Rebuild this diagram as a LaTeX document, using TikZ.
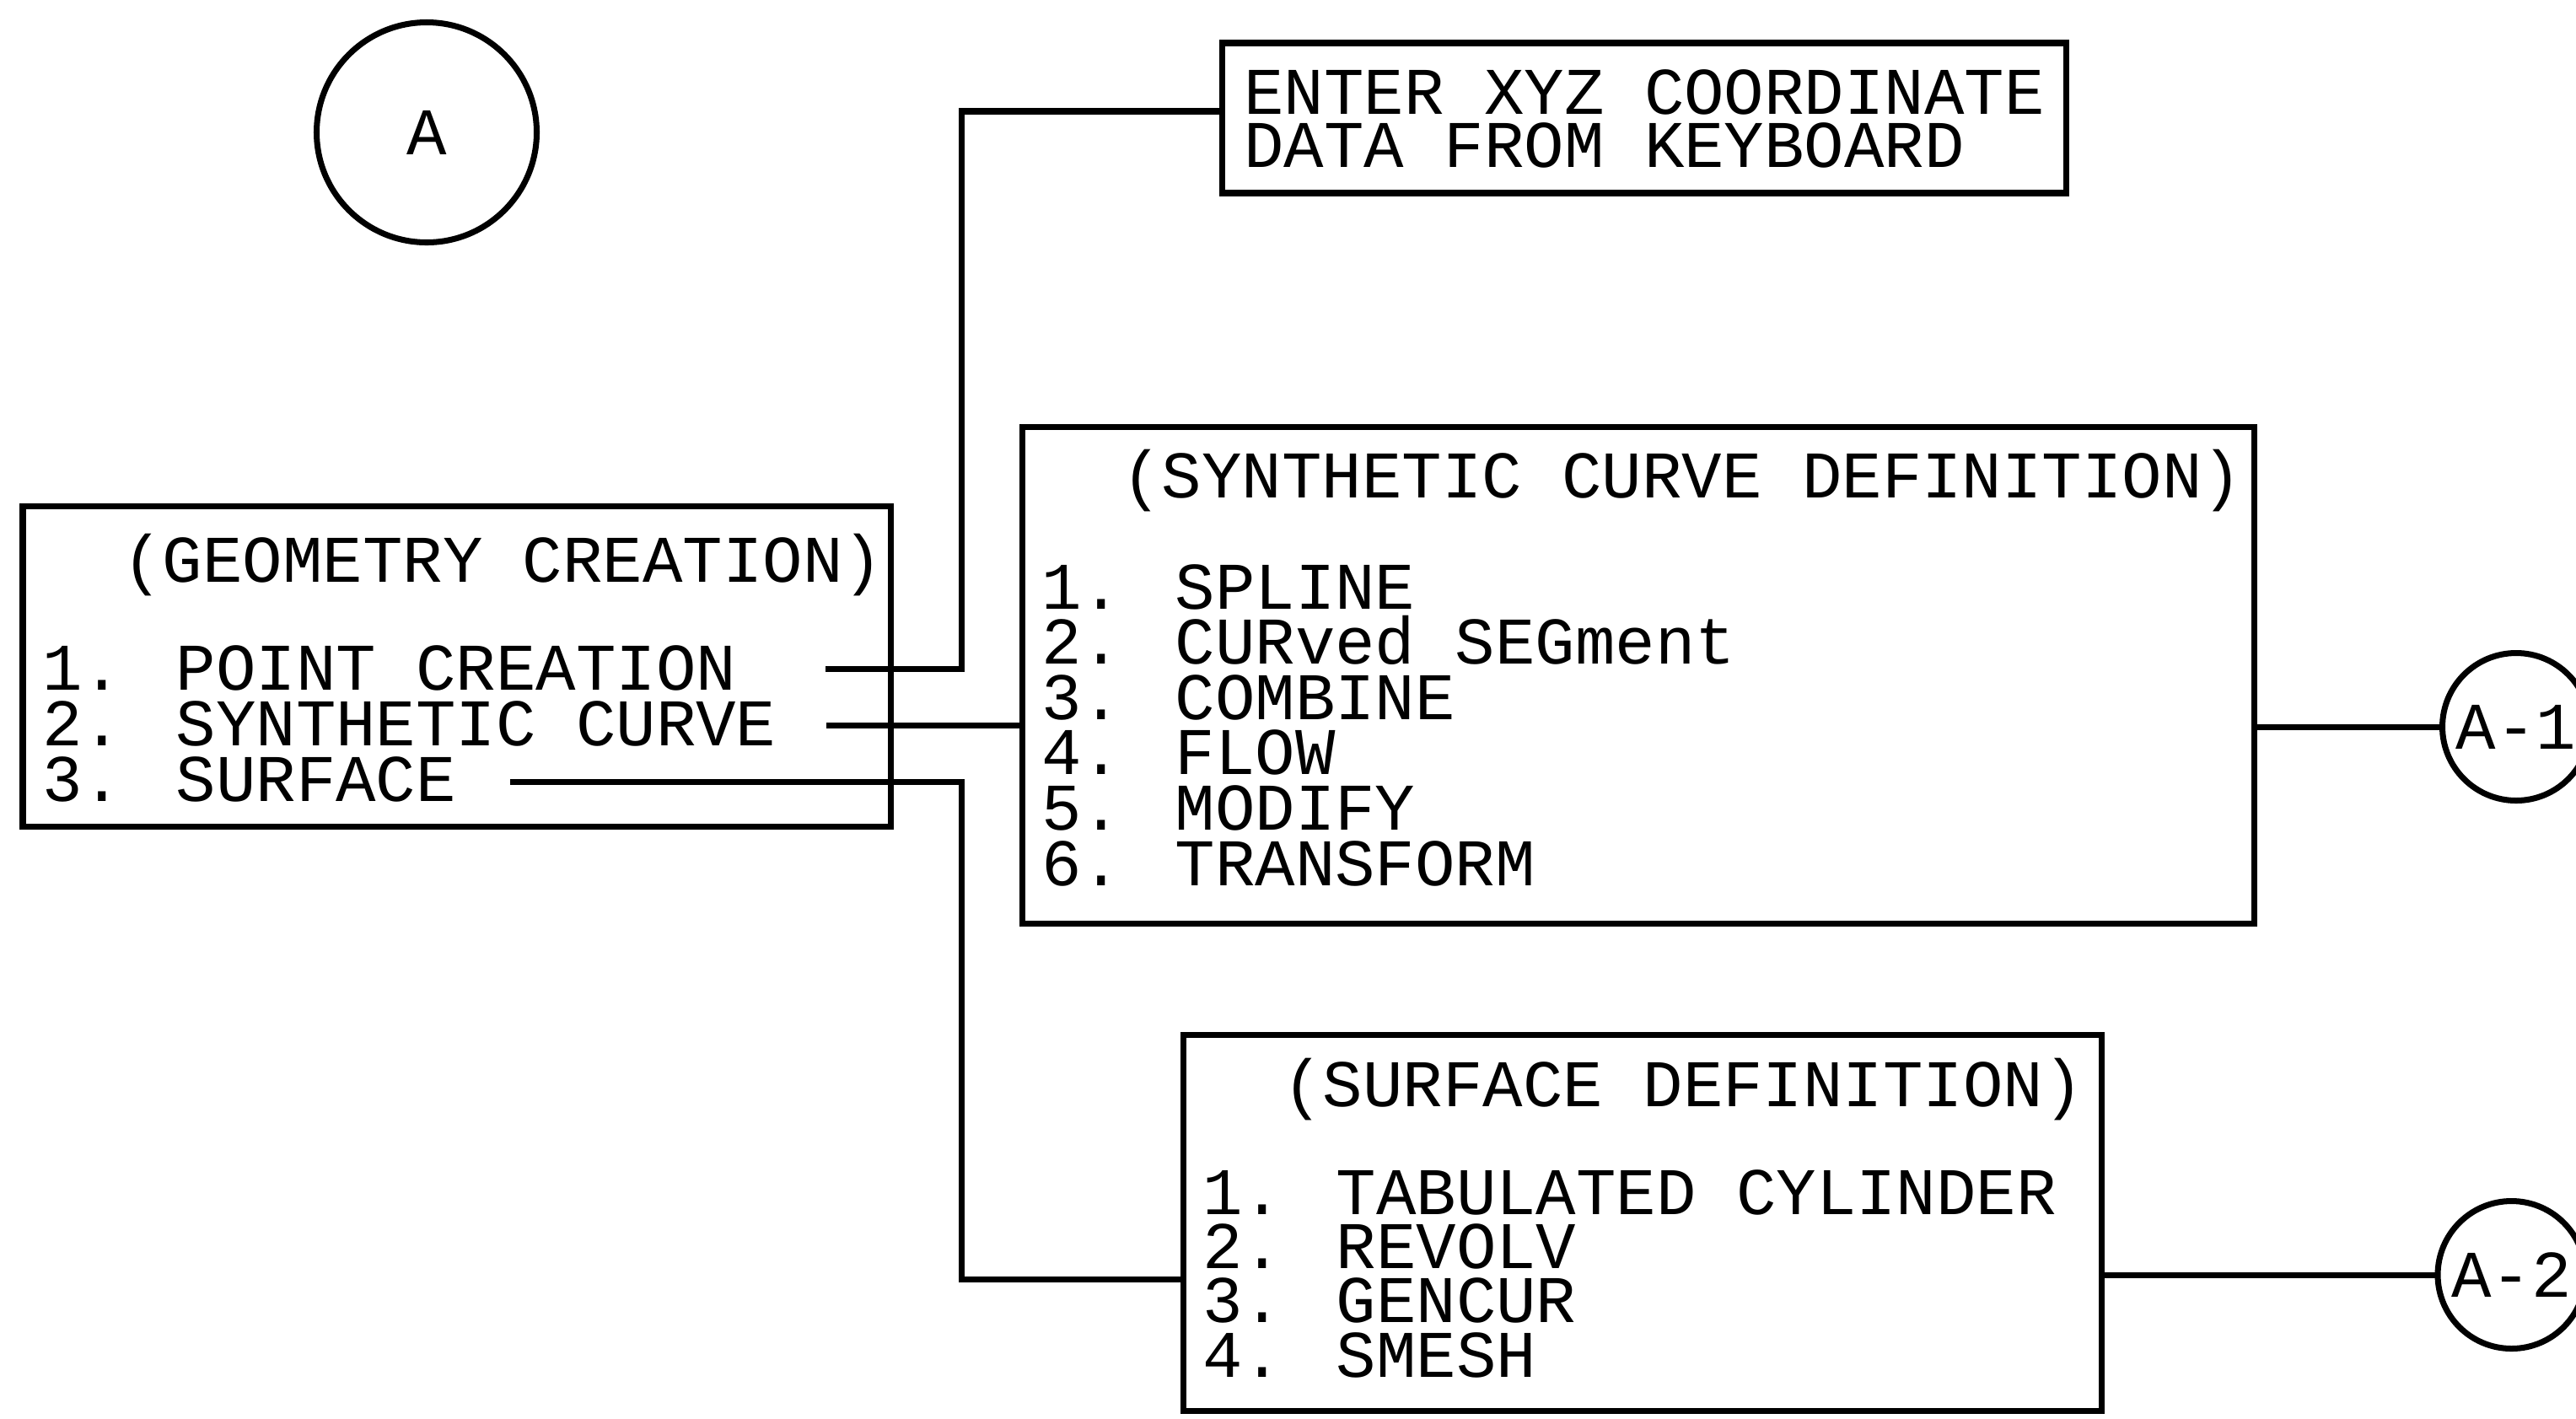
\documentclass[tikz,border=0pt]{standalone}
\usepackage{fontspec}
\newfontfamily\plotfont{Liberation Mono}

\begin{document}
\begin{tikzpicture}[
    line width=2pt,
    font=\plotfont\fontsize{22.5}{26}\selectfont,
    box/.style={draw, rectangle, inner sep=0pt},
    refcircle/.style={draw, circle, inner sep=0pt, minimum size=1.75cm},
    txt/.style={anchor=base west, inner sep=0pt, text height=0.54cm, text depth=0.04cm},
    conn/.style={-, line width=2pt}
]
    \useasboundingbox (0,0) rectangle (30.55,-16.82);

    % Entry reference
    \node[refcircle, minimum size=2.61cm] (ca) at (5.06,-1.57) {A};

    % Keyboard entry
    \node[box, minimum width=10.01cm, minimum height=1.78cm] (enter) at (19.495,-1.40) {};
    \node[txt] (enter1) at (14.72,-1.355) {ENTER XYZ COORDINATE};
    \node[txt] (enter2) at (14.72,-1.98) {DATA FROM KEYBOARD};

    % Geometry creation menu
    \node[box, minimum width=10.29cm, minimum height=3.80cm] (geo) at (5.415,-7.90) {};
    \node[txt] (geot) at (1.42,-6.90) {(GEOMETRY CREATION)};
    \node[txt] (geo1) at (0.47,-8.18) {1. POINT CREATION};
    \node[txt] (geo2) at (0.47,-8.84) {2. SYNTHETIC CURVE};
    \node[txt] (geo3) at (0.47,-9.50) {3. SURFACE};

    % Synthetic curve menu
    \node[box, minimum width=14.61cm, minimum height=5.89cm] (syn) at (19.425,-8.005) {};
    \node[txt] (synt) at (13.27,-5.90) {(SYNTHETIC CURVE DEFINITION)};
    \node[txt] (syn1) at (12.32,-7.22) {1. SPLINE};
    \node[txt] (syn2) at (12.32,-7.876) {2. CURved SEGment};
    \node[txt] (syn3) at (12.32,-8.532) {3. COMBINE};
    \node[txt] (syn4) at (12.32,-9.188) {4. FLOW};
    \node[txt] (syn5) at (12.32,-9.844) {5. MODIFY};
    \node[txt] (syn6) at (12.32,-10.50) {6. TRANSFORM};

    % Surface menu
    \node[box, minimum width=10.89cm, minimum height=4.46cm] (surf) at (19.475,-14.50) {};
    \node[txt] (surft) at (15.18,-13.12) {(SURFACE DEFINITION)};
    \node[txt] (surf1) at (14.23,-14.40) {1. TABULATED CYLINDER};
    \node[txt] (surf2) at (14.23,-15.043) {2. REVOLV};
    \node[txt] (surf3) at (14.23,-15.686) {3. GENCUR};
    \node[txt] (surf4) at (14.23,-16.33) {4. SMESH};

    % Continuation references
    \node[refcircle] (ca1) at (29.84,-8.62) {A-1};
    \node[refcircle] (ca2) at (29.785,-15.12) {A-2};

    % Line ends and corners
    \coordinate (p1) at (9.79,-7.93);
    \coordinate (p2) at (9.80,-8.60);
    \coordinate (p3) at (6.05,-9.27);
    \coordinate (j1) at (11.40,-1.32);
    \coordinate (j3) at (11.40,-15.17);

    % Connectors
    \draw[conn] (p1) -| (j1) -- (j1 -| enter.west);
    \draw[conn] (p2) -- (p2 -| syn.west);
    \draw[conn] (p3) -| (j3) -- (j3 -| surf.west);
    \draw[conn] (syn.east |- ca1.west) -- (ca1.west);
    \draw[conn] (surf.east |- ca2.west) -- (ca2.west);
\end{tikzpicture}
\end{document}
